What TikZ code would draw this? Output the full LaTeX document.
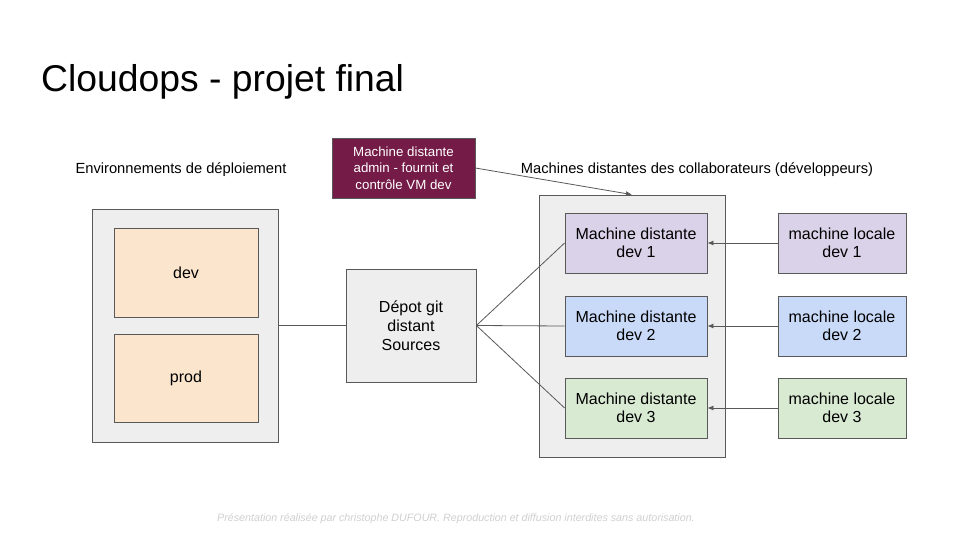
\documentclass[tikz,border=0pt]{standalone}
\usepackage{fontspec}
\setmainfont{Liberation Sans}
\usetikzlibrary{arrows.meta}

\definecolor{edgegray}{HTML}{595959}
\definecolor{boxgray}{HTML}{EEEEEE}
\definecolor{envorange}{HTML}{FCE5CD}
\definecolor{devpurple}{HTML}{D9D2E9}
\definecolor{devblue}{HTML}{C9DAF8}
\definecolor{devgreen}{HTML}{D9EAD3}
\definecolor{adminwine}{HTML}{741B47}
\definecolor{footgray}{HTML}{D0D0D0}

\tikzset{
  box/.style={draw=edgegray, line width=0.8pt, inner sep=0pt, align=center,
    font=\fontsize{16}{18}\selectfont},
  link/.style={draw=edgegray, line width=0.8pt},
  arr/.style={link, -{Latex[length=6pt,width=5pt]}},
  caption/.style={font=\fontsize{14.7}{17}\selectfont}
}

\begin{document}
\begin{tikzpicture}[x=1pt,y=-1pt]

\useasboundingbox[fill=white] (0,0) rectangle (960,540);

%% The title
\node[anchor=base west, inner sep=0pt, font=\fontsize{37.3}{44}\selectfont] (title) at (41,92) {Cloudops - projet final};

%% Deployment environments
\node[caption] (envlabel) at (181,170) {Environnements de déploiement};
\node[box, fill=boxgray, minimum width=186pt, minimum height=233pt] (env) at (185,325.5) {};
\node[box, fill=envorange, minimum width=144pt, minimum height=89pt] (dev) at (186,272.5) {dev};
\node[box, fill=envorange, minimum width=144pt, minimum height=88pt] (prod) at (186,378) {prod};

%% The git repository
\node[box, fill=boxgray, minimum width=130pt, minimum height=113pt,
  font=\fontsize{16}{19}\selectfont] (depot) at (411,325.5) {Dépot git\\distant\\Sources};

%% The admin machine
\node[box, fill=adminwine, text=white, minimum width=143pt, minimum height=60pt,
  font=\fontsize{13.3}{16.3}\selectfont] (admin) at (403.5,168) {Machine distante\\admin - fournit et\\contrôle VM dev};

%% Remote machines of the developers
\node[caption] (remlabel) at (697,170) {Machines distantes des collaborateurs (développeurs)};
\node[box, fill=boxgray, minimum width=186pt, minimum height=262pt] (remote) at (632,326) {};
\node[box, fill=devpurple, minimum width=142pt, minimum height=60pt] (dist1) at (636,243) {Machine distante\\dev 1};
\node[box, fill=devblue, minimum width=142pt, minimum height=60pt] (dist2) at (636,326) {Machine distante\\dev 2};
\node[box, fill=devgreen, minimum width=142pt, minimum height=60pt] (dist3) at (636,408) {Machine distante\\dev 3};

%% Local machines
\node[box, fill=devpurple, minimum width=128pt, minimum height=60pt] (loc1) at (842,243) {machine locale\\dev 1};
\node[box, fill=devblue, minimum width=128pt, minimum height=60pt] (loc2) at (842,326) {machine locale\\dev 2};
\node[box, fill=devgreen, minimum width=128pt, minimum height=60pt] (loc3) at (842,408) {machine locale\\dev 3};

%% The links
\draw[link] (env.east) -- (depot.west);
\draw[link] (depot.east) -- (dist1.west);
\draw[link] (depot.east) -- (dist2.west);
\draw[link] (depot.east) -- (dist3.west);
\draw[arr] (admin.east) -- (remote.north);
\draw[arr] (loc1.west) -- (dist1.east);
\draw[arr] (loc2.west) -- (dist2.east);
\draw[arr] (loc3.west) -- (dist3.east);

%% The footer
\node[text=footgray, font=\fontsize{10.7}{12}\selectfont\itshape] (footer) at (456,519)
  {Présentation réalisée par christophe DUFOUR. Reproduction et diffusion interdites sans autorisation.};

\end{tikzpicture}
\end{document}
